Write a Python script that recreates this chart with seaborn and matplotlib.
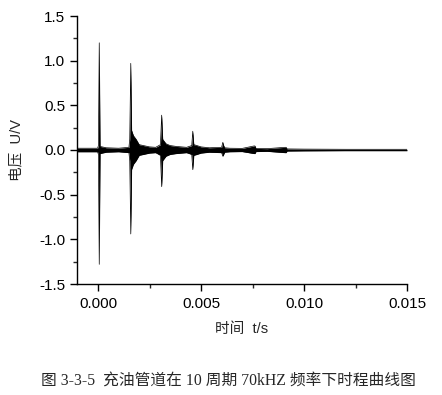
import numpy as np
import pandas as pd
import matplotlib
matplotlib.use("Agg")
import matplotlib.pyplot as plt
from matplotlib.ticker import MultipleLocator, FormatStrFormatter
import seaborn as sns

env_time_ms = [-1.00, -0.02, 0.02, 0.06, 0.10, 0.40, 1.00, 1.50, 1.54, 1.59, 1.63,
               1.72, 1.85, 2.00, 2.20, 2.50, 2.80, 3.03, 3.09, 3.14, 3.30, 3.50,
               3.80, 4.30, 4.55, 4.60, 4.65, 4.80, 5.00, 5.40, 6.00, 6.06, 6.10,
               6.15, 6.40, 7.00, 7.57, 7.62, 7.67, 8.20, 9.08, 9.13, 9.18, 10.0,
               12.0, 15.0]
env_upper = [0.020, 0.020, 0.050, 1.20, 0.040, 0.025, 0.020, 0.030, 0.12, 0.97, 0.22,
             0.16, 0.12, 0.06, 0.05, 0.035, 0.030, 0.06, 0.39, 0.12, 0.07, 0.05,
             0.04, 0.03, 0.05, 0.21, 0.06, 0.05, 0.035, 0.025, 0.03, 0.086, 0.05,
             0.025, 0.02, 0.018, 0.045, 0.045, 0.018, 0.015, 0.03, 0.03, 0.012, 0.010,
             0.008, 0.008]
env_lower = [-0.020, -0.020, -0.050, -1.28, -0.040, -0.025, -0.020, -0.030, -0.12, -0.94, -0.22,
             -0.16, -0.12, -0.06, -0.05, -0.035, -0.030, -0.06, -0.41, -0.12, -0.07, -0.05,
             -0.04, -0.03, -0.05, -0.22, -0.06, -0.05, -0.035, -0.025, -0.03, -0.07, -0.05,
             -0.025, -0.02, -0.018, -0.04, -0.04, -0.018, -0.015, -0.03, -0.03, -0.012, -0.010,
             -0.008, -0.008]

x_ticks = [0.000, 0.005, 0.010, 0.015]
y_ticks = [-1.5, -1.0, -0.5, 0.0, 0.5, 1.0, 1.5]

df = pd.DataFrame({
    "t": np.array(env_time_ms) * 1e-3,
    "upper": env_upper,
    "lower": env_lower,
})

sns.set_style("ticks")
plt.rcParams["font.family"] = ["Liberation Sans", "Noto Sans CJK SC"]
plt.rcParams["axes.linewidth"] = 1.0

fig = plt.figure(figsize=(4.42, 3.95), dpi=100)
ax = fig.add_axes([77 / 442, 1 - 284 / 395, 330 / 442, 268 / 395])

sns.lineplot(data=df, x="t", y="upper", ax=ax, color="black", lw=0.5)
sns.lineplot(data=df, x="t", y="lower", ax=ax, color="black", lw=0.5)
ax.fill_between(df["t"], df["lower"], df["upper"], color="black", lw=0)

ax.set_xlim(-0.00102, 0.015)
ax.set_ylim(-1.5, 1.5)
ax.set_xticks(x_ticks)
ax.set_yticks(y_ticks)
ax.xaxis.set_major_formatter(FormatStrFormatter("%.3f"))
ax.yaxis.set_major_formatter(FormatStrFormatter("%.1f"))
ax.xaxis.set_minor_locator(MultipleLocator(0.0025))
ax.yaxis.set_minor_locator(MultipleLocator(0.25))
ax.tick_params(which="major", direction="out", length=5, width=1, labelsize=11, colors="black")
ax.tick_params(which="minor", direction="out", length=3, width=1)
ax.tick_params(axis="x", pad=4)

sns.despine(ax=ax)
for s in ["left", "bottom"]:
    ax.spines[s].set_color("black")

ax.set_xlabel("时间  t/s", fontsize=10.5, labelpad=8)
ax.set_ylabel("电压  U/V", fontsize=10.5, labelpad=11)

fig.text(0.516, 1 - 381 / 395, "图 3-3-5  充油管道在 10 周期 70kHZ 频率下时程曲线图",
         ha="center", va="center", fontsize=11.3,
         family=["Liberation Serif", "Noto Sans CJK SC"])

fig.savefig("out.png", dpi=100)
